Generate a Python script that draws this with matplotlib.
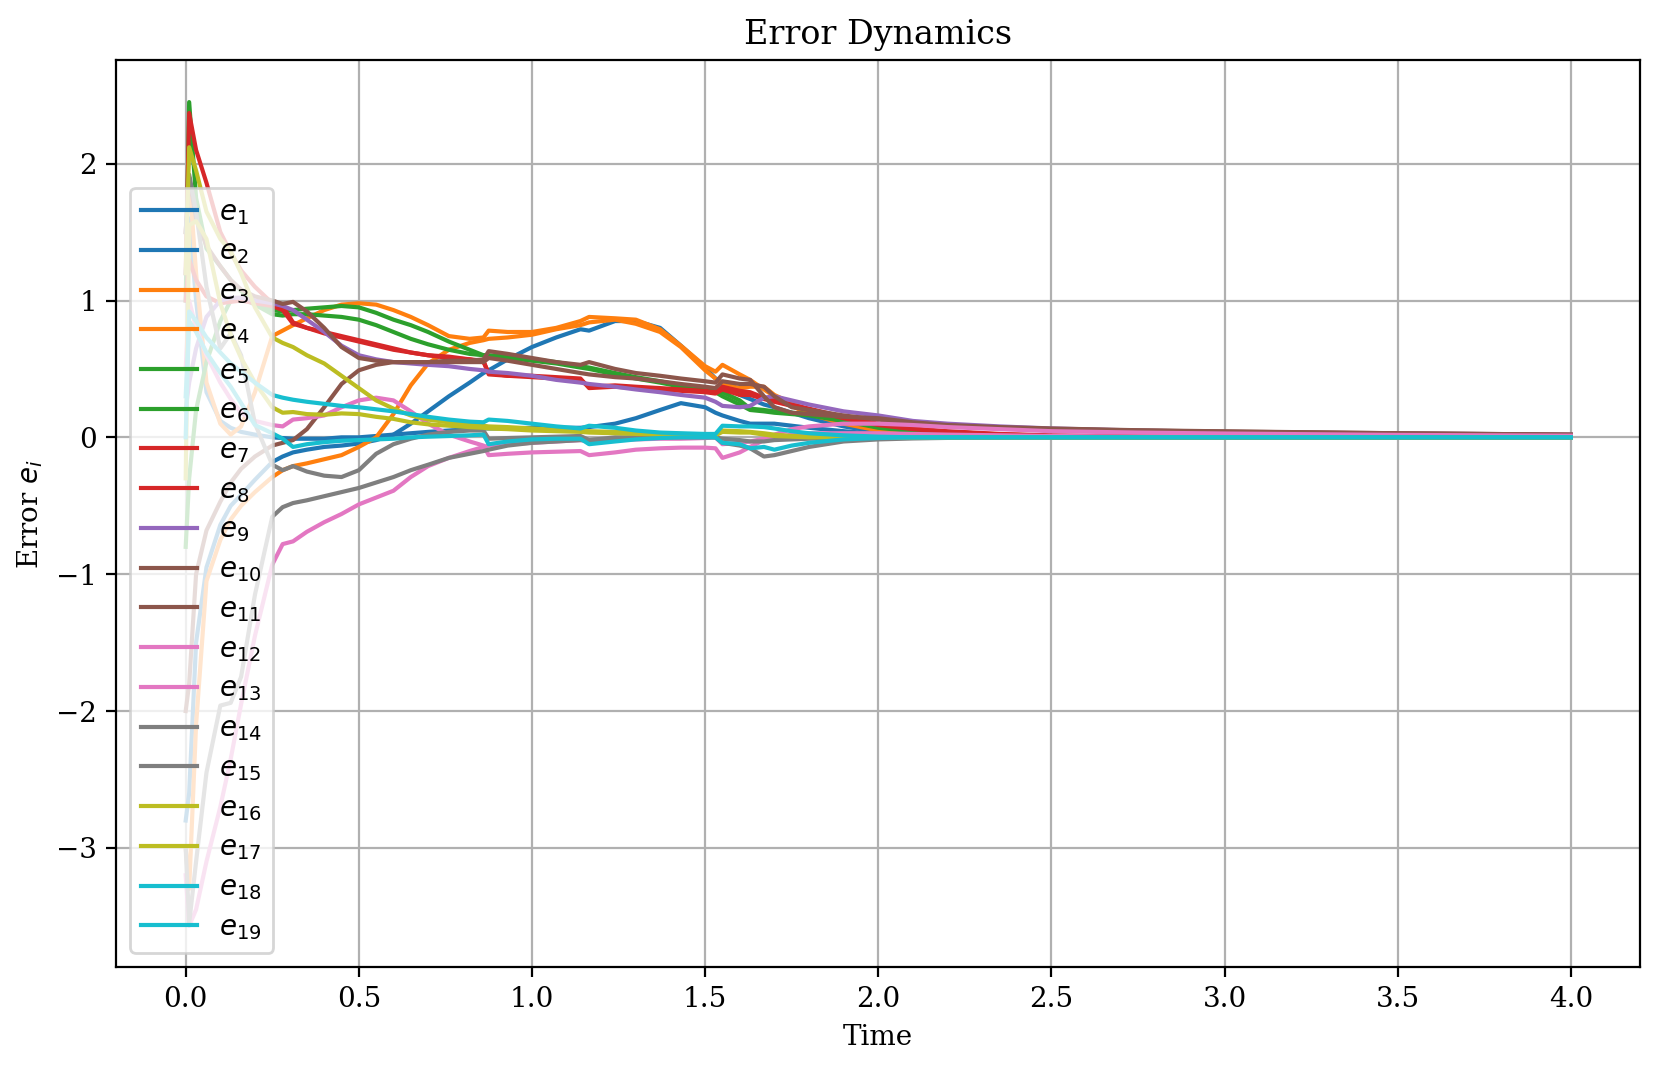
import matplotlib
matplotlib.use("Agg")
import matplotlib.pyplot as plt

plt.rcParams['font.family'] = 'serif'

# time samples (shared by all series)
t = [0.0, 0.01, 0.03, 0.06, 0.1, 0.13, 0.16, 0.2, 0.25, 0.28,
     0.31, 0.35, 0.4, 0.45, 0.5, 0.55, 0.6, 0.65, 0.7, 0.76,
     0.82, 0.86, 0.875, 0.93, 1.0, 1.07, 1.14, 1.165, 1.24, 1.3,
     1.37, 1.43, 1.5, 1.53, 1.55, 1.6, 1.63, 1.67, 1.7, 1.75,
     1.8, 1.9, 2.0, 2.1, 2.2, 2.35, 2.5, 2.75, 3.0, 3.5, 4.0]

e1 = [-2.8, -2.6, -1.5, -0.95, -0.64, -0.5, -0.42, -0.31, -0.18, -0.14,
      -0.11, -0.09, -0.07, -0.06, -0.045, -0.02, 0.02, 0.1, 0.19, 0.3,
      0.4, 0.47, 0.49, 0.57, 0.66, 0.73, 0.79, 0.78, 0.85, 0.85,
      0.8, 0.67, 0.51, 0.43, 0.4, 0.31, 0.28, 0.24, 0.22, 0.18,
      0.14, 0.08, 0.04, 0.02, 0.01, 0.005, 0.003, 0.001, 0.0, 0.0, 0.0]
e2 = [1.2, 1.6, 1.0, 0.33, 0.12, 0.07, 0.04, 0.02, 0.0, -0.005,
      -0.01, -0.01, -0.01, 0.0, 0.0, 0.01, 0.02, 0.03, 0.04, 0.05,
      0.06, 0.065, 0.065, 0.065, 0.07, 0.07, 0.07, 0.075, 0.1, 0.14,
      0.2, 0.25, 0.22, 0.18, 0.16, 0.12, 0.1, 0.1, 0.1, 0.085,
      0.07, 0.045, 0.025, 0.012, 0.006, 0.002, 0.001, 0.0, 0.0, 0.0, 0.0]
e3 = [1.5, 1.9, 1.2, 0.4, 0.1, 0.02, 0.08, 0.33, 0.74, 0.78,
      0.82, 0.87, 0.93, 0.97, 0.98, 0.97, 0.93, 0.88, 0.82, 0.74,
      0.72, 0.73, 0.78, 0.77, 0.77, 0.8, 0.85, 0.88, 0.87, 0.86,
      0.79, 0.67, 0.52, 0.48, 0.53, 0.46, 0.42, 0.35, 0.3, 0.23,
      0.17, 0.1, 0.05, 0.03, 0.02, 0.01, 0.005, 0.002, 0.001, 0.0, 0.0]
e4 = [-3.0, -3.3, -2.1, -1.05, -0.75, -0.6, -0.5, -0.4, -0.29, -0.24,
      -0.21, -0.19, -0.16, -0.13, -0.07, 0.0, 0.17, 0.38, 0.54, 0.64,
      0.69, 0.71, 0.72, 0.73, 0.75, 0.79, 0.82, 0.84, 0.86, 0.83,
      0.77, 0.66, 0.49, 0.43, 0.39, 0.36, 0.37, 0.37, 0.31, 0.25,
      0.2, 0.12, 0.07, 0.04, 0.025, 0.012, 0.006, 0.002, 0.001, 0.0, 0.0]
e5 = [1.0, 2.45, 1.75, 1.38, 1.25, 1.15, 1.07, 0.99, 0.93, 0.92,
      0.93, 0.94, 0.95, 0.96, 0.95, 0.91, 0.86, 0.82, 0.77, 0.7,
      0.64, 0.6, 0.6, 0.59, 0.57, 0.55, 0.52, 0.51, 0.47, 0.44,
      0.41, 0.38, 0.35, 0.34, 0.33, 0.27, 0.21, 0.2, 0.19, 0.18,
      0.17, 0.12, 0.07, 0.045, 0.03, 0.015, 0.008, 0.003, 0.001, 0.0, 0.0]
e6 = [-0.8, -0.3, 0.2, 0.55, 0.85, 1.0, 1.02, 0.97, 0.9, 0.89,
      0.9, 0.9, 0.89, 0.88, 0.86, 0.82, 0.77, 0.72, 0.68, 0.64,
      0.61, 0.6, 0.59, 0.58, 0.56, 0.54, 0.51, 0.5, 0.46, 0.43,
      0.4, 0.37, 0.34, 0.33, 0.3, 0.24, 0.2, 0.19, 0.18, 0.17,
      0.16, 0.12, 0.08, 0.05, 0.03, 0.016, 0.009, 0.003, 0.001, 0.0, 0.0]
e7 = [1.2, 2.37, 2.1, 1.86, 1.5, 1.35, 1.22, 1.1, 0.98, 0.96,
      0.84, 0.8, 0.76, 0.73, 0.7, 0.67, 0.64, 0.62, 0.6, 0.58,
      0.57, 0.55, 0.47, 0.45, 0.44, 0.43, 0.42, 0.37, 0.38, 0.37,
      0.36, 0.35, 0.34, 0.33, 0.37, 0.34, 0.33, 0.29, 0.27, 0.24,
      0.21, 0.15, 0.1, 0.065, 0.045, 0.025, 0.014, 0.006, 0.003, 0.001, 0.0]
e8 = [1.0, 1.3, 1.15, 1.03, 0.98, 0.99, 1.0, 0.98, 0.96, 0.93,
      0.83, 0.8, 0.77, 0.74, 0.71, 0.68, 0.65, 0.62, 0.6, 0.59,
      0.57, 0.56, 0.46, 0.45, 0.45, 0.44, 0.43, 0.36, 0.37, 0.36,
      0.35, 0.34, 0.33, 0.32, 0.35, 0.31, 0.31, 0.28, 0.26, 0.23,
      0.2, 0.14, 0.09, 0.06, 0.04, 0.022, 0.012, 0.005, 0.002, 0.001, 0.0]
e9 = [0.2, 0.4, 0.65, 0.88, 1.0, 1.02, 1.02, 1.0, 0.98, 0.96,
      0.93, 0.86, 0.77, 0.67, 0.6, 0.57, 0.55, 0.54, 0.53, 0.52,
      0.5, 0.49, 0.48, 0.47, 0.45, 0.42, 0.4, 0.39, 0.37, 0.35,
      0.33, 0.31, 0.29, 0.26, 0.23, 0.22, 0.23, 0.29, 0.3, 0.27,
      0.24, 0.19, 0.16, 0.12, 0.1, 0.08, 0.065, 0.05, 0.04, 0.028, 0.02]
e10 = [1.5, 1.9, 1.6, 1.4, 1.25, 1.15, 1.08, 1.03, 1.0, 0.975,
       0.99, 0.92, 0.8, 0.66, 0.58, 0.56, 0.55, 0.55, 0.55, 0.56,
       0.56, 0.57, 0.63, 0.61, 0.58, 0.55, 0.53, 0.55, 0.5, 0.47,
       0.45, 0.43, 0.41, 0.4, 0.46, 0.43, 0.42, 0.3, 0.22, 0.18,
       0.17, 0.15, 0.14, 0.11, 0.09, 0.075, 0.065, 0.052, 0.044, 0.03, 0.02]
e11 = [-2.0, -1.8, -1.0, -0.68, -0.47, -0.33, -0.23, -0.14, -0.06, -0.04,
       -0.02, 0.06, 0.22, 0.39, 0.49, 0.53, 0.55, 0.55, 0.55, 0.55,
       0.55, 0.55, 0.58, 0.56, 0.53, 0.5, 0.47, 0.46, 0.44, 0.43,
       0.41, 0.39, 0.37, 0.36, 0.41, 0.39, 0.39, 0.37, 0.3, 0.22,
       0.2, 0.16, 0.13, 0.1, 0.085, 0.07, 0.06, 0.05, 0.042, 0.03, 0.02]
e12 = [0.5, 1.0, 0.8, 0.6, 0.4, 0.28, 0.18, 0.12, 0.09, 0.08,
       0.13, 0.14, 0.16, 0.22, 0.27, 0.29, 0.27, 0.19, 0.1, 0.02,
       -0.03, -0.06, -0.13, -0.12, -0.11, -0.105, -0.1, -0.13, -0.11, -0.09,
       -0.08, -0.075, -0.075, -0.08, -0.15, -0.11, -0.07, -0.02, 0.02, 0.06,
       0.08, 0.1, 0.1, 0.09, 0.075, 0.06, 0.045, 0.035, 0.028, 0.018, 0.012]
e13 = [-3.2, -3.57, -3.45, -3.1, -2.7, -2.35, -1.95, -1.45, -0.93, -0.78,
       -0.76, -0.69, -0.62, -0.56, -0.49, -0.44, -0.39, -0.29, -0.21, -0.15,
       -0.1, -0.07, -0.06, -0.05, -0.04, -0.03, -0.02, -0.03, -0.02, -0.015,
       -0.01, -0.01, -0.005, 0.0, -0.05, -0.04, -0.03, -0.01, 0.0, 0.02,
       0.03, 0.03, 0.03, 0.025, 0.02, 0.015, 0.01, 0.006, 0.004, 0.002, 0.001]
e14 = [1.5, 1.92, 1.65, 1.1, 0.65, 0.76, 0.6, 0.1, -0.2, -0.24,
       -0.21, -0.25, -0.28, -0.29, -0.24, -0.12, -0.05, -0.01, 0.02, 0.04,
       0.05, 0.05, -0.01, -0.005, 0.0, 0.005, 0.01, -0.02, 0.0, 0.0,
       0.0, 0.0, 0.0, 0.0, -0.04, -0.06, -0.08, -0.14, -0.13, -0.1,
       -0.07, -0.03, -0.015, -0.008, -0.004, -0.002, -0.001, 0.0, 0.0, 0.0, 0.0]
e15 = [-3.0, -3.55, -3.1, -2.45, -1.96, -1.94, -1.75, -1.15, -0.58, -0.51,
       -0.48, -0.46, -0.43, -0.4, -0.37, -0.33, -0.29, -0.24, -0.2, -0.15,
       -0.12, -0.1, -0.09, -0.06, -0.04, -0.03, -0.02, -0.02, -0.01, 0.0,
       0.01, 0.01, 0.01, 0.0, -0.01, -0.02, -0.03, -0.03, -0.02, -0.015,
       -0.01, -0.005, -0.003, -0.001, 0.0, 0.0, 0.0, 0.0, 0.0, 0.0, 0.0]
e16 = [1.2, 2.12, 1.95, 1.65, 1.45, 1.36, 1.2, 0.95, 0.73, 0.69,
       0.66, 0.6, 0.54, 0.45, 0.36, 0.27, 0.21, 0.16, 0.13, 0.11,
       0.095, 0.085, 0.08, 0.075, 0.065, 0.055, 0.05, 0.045, 0.04, 0.035,
       0.03, 0.025, 0.02, 0.02, 0.05, 0.045, 0.04, 0.03, 0.02, 0.01,
       0.005, 0.0, 0.0, 0.0, 0.0, 0.0, 0.0, 0.0, 0.0, 0.0, 0.0]
e17 = [-0.3, 1.55, 1.58, 1.45, 0.98, 0.75, 0.58, 0.4, 0.22, 0.18,
       0.185, 0.17, 0.165, 0.175, 0.17, 0.15, 0.135, 0.11, 0.095, 0.085,
       0.075, 0.07, 0.065, 0.06, 0.05, 0.045, 0.04, 0.035, 0.03, 0.025,
       0.02, 0.02, 0.015, 0.015, 0.04, 0.035, 0.035, 0.02, 0.01, 0.005,
       0.0, 0.0, 0.0, 0.0, 0.0, 0.0, 0.0, 0.0, 0.0, 0.0, 0.0]
e18 = [0.0, 0.92, 0.85, 0.73, 0.62, 0.54, 0.48, 0.4, 0.31, 0.29,
       0.275, 0.26, 0.245, 0.23, 0.22, 0.205, 0.19, 0.17, 0.15, 0.13,
       0.115, 0.11, 0.13, 0.12, 0.1, 0.08, 0.065, 0.085, 0.07, 0.05,
       0.035, 0.03, 0.025, 0.025, 0.085, 0.08, 0.08, 0.075, 0.065, 0.045,
       0.03, 0.015, 0.005, 0.0, 0.0, 0.0, 0.0, 0.0, 0.0, 0.0, 0.0]
e19 = [0.3, 0.85, 0.77, 0.62, 0.47, 0.37, 0.25, 0.09, 0.03, -0.01,
       -0.07, -0.05, -0.035, -0.025, -0.02, -0.015, -0.01, 0.0, 0.005, 0.01,
       0.015, 0.02, -0.05, -0.03, -0.015, -0.01, -0.01, -0.05, -0.03, -0.015,
       -0.005, 0.0, 0.0, 0.0, -0.04, -0.05, -0.08, -0.07, -0.09, -0.06,
       -0.04, -0.015, -0.005, 0.0, 0.0, 0.0, 0.0, 0.0, 0.0, 0.0, 0.0]

series = [e1, e2, e3, e4, e5, e6, e7, e8, e9, e10,
          e11, e12, e13, e14, e15, e16, e17, e18, e19]
labels = [f"$e_{{{i}}}$" for i in range(1, 20)]
colors = ['C0', 'C0', 'C1', 'C1', 'C2', 'C2', 'C3', 'C3', 'C4', 'C5',
          'C5', 'C6', 'C6', 'C7', 'C7', 'C8', 'C8', 'C9', 'C9']

DPI = 200
fig = plt.figure(figsize=(1661 / DPI, 1072 / DPI), dpi=DPI)
ax = fig.add_subplot(111)
fig.subplots_adjust(left=0.0701, right=0.9874, bottom=0.098, top=0.9437)

for vals, lab, col in zip(series, labels, colors):
    ax.plot(t, vals, color=col, label=lab, linewidth=1.5)

ax.set_ylim(-3.87, 2.755)
ax.set_title("Error Dynamics")
ax.set_xlabel("Time")
ax.set_ylabel("Error $e_i$")
ax.grid(True)
ax.legend(loc='lower left', labelspacing=0.43)

fig.savefig("out.png", dpi=DPI)
